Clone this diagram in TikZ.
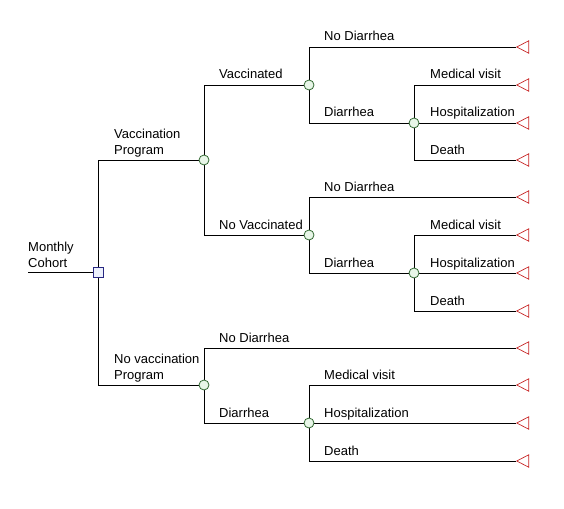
\documentclass[tikz,border=0pt]{standalone}
\usepackage{fontspec}
\setmainfont{Liberation Sans}
\usetikzlibrary{shapes.geometric,backgrounds}

\definecolor{decblue}{RGB}{40,40,130}
\definecolor{decfill}{RGB}{236,240,252}
\definecolor{chgreen}{RGB}{50,105,50}
\definecolor{chfill}{RGB}{232,246,232}
\definecolor{termred}{RGB}{200,40,40}

\begin{document}
\begin{tikzpicture}[
  x=1pt, y=-1pt,
  every node/.style={font=\fontsize{13}{16}\selectfont},
  decision/.style={draw=decblue, fill=decfill, minimum size=10pt, inner sep=0pt, line width=0.8pt},
  chance/.style={circle, draw=chgreen, fill=chfill, minimum size=10pt, inner sep=0pt, line width=0.8pt},
  terminal/.style={isosceles triangle, shape border rotate=180, isosceles triangle apex angle=55,
    draw=termred, fill=white, minimum size=12pt, inner sep=0pt, anchor=apex, line width=0.7pt},
  lbl/.style={anchor=base west, inner sep=0pt, align=left},
  branch/.style={line width=0.8pt}
]
  \useasboundingbox (0,0) rectangle (564,508);

  % --- Entscheidungs- und Zufallsknoten ---
  \coordinate (cohort) at (28,272);
  \node[decision] (root) at (98,272) {};
  \node[chance] (vp)    at (204,160) {};
  \node[chance] (nvp)   at (204,385) {};
  \node[chance] (vac)   at (309,85)  {};
  \node[chance] (nvac)  at (309,235) {};
  \node[chance] (vacD)  at (414,123) {};
  \node[chance] (nvacD) at (414,273) {};
  \node[chance] (nvpD)  at (309,423) {};

  % --- Endknoten ---
  \node[terminal] (t1)  at (516,47)  {};
  \node[terminal] (t2)  at (516,85)  {};
  \node[terminal] (t3)  at (516,123) {};
  \node[terminal] (t4)  at (516,160) {};
  \node[terminal] (t5)  at (516,197) {};
  \node[terminal] (t6)  at (516,235) {};
  \node[terminal] (t7)  at (516,273) {};
  \node[terminal] (t8)  at (516,311) {};
  \node[terminal] (t9)  at (516,348) {};
  \node[terminal] (t10) at (516,385) {};
  \node[terminal] (t11) at (516,423) {};
  \node[terminal] (t12) at (516,461) {};

  % --- Beschriftungen ---
  \node[lbl] (lCohort) at (28,267)  {Monthly\\Cohort};
  \node[lbl] (lVP)     at (114,154) {Vaccination\\Program};
  \node[lbl] (lNVP)    at (114,379) {No vaccination\\Program};
  \node[lbl] (lVac)    at (219,79)  {Vaccinated};
  \node[lbl] (lNVac)   at (219,229) {No Vaccinated};
  \node[lbl] (lVacND)  at (324,41)  {No Diarrhea};
  \node[lbl] (lVacD)   at (324,117) {Diarrhea};
  \node[lbl] (lVacM)   at (430,79)  {Medical visit};
  \node[lbl] (lVacH)   at (430,117) {Hospitalization};
  \node[lbl] (lVacX)   at (430,154) {Death};
  \node[lbl] (lNVacND) at (324,191) {No Diarrhea};
  \node[lbl] (lNVacD)  at (324,267) {Diarrhea};
  \node[lbl] (lNVacM)  at (430,229) {Medical visit};
  \node[lbl] (lNVacH)  at (430,267) {Hospitalization};
  \node[lbl] (lNVacX)  at (430,305) {Death};
  \node[lbl] (lNVPND)  at (219,342) {No Diarrhea};
  \node[lbl] (lNVPD)   at (219,417) {Diarrhea};
  \node[lbl] (lNVPM)   at (324,379) {Medical visit};
  \node[lbl] (lNVPH)   at (324,417) {Hospitalization};
  \node[lbl] (lNVPX)   at (324,455) {Death};

  \begin{pgfonlayer}{background}
    % Aeste
    \draw[branch] (cohort) -- (root);
    \draw[branch] (root) |- (vp);
    \draw[branch] (root) |- (nvp);
    \draw[branch] (vp) |- (vac);
    \draw[branch] (vp) |- (nvac);
    \draw[branch] (vac) |- (t1.apex);
    \draw[branch] (vac) |- (vacD);
    \draw[branch] (vacD) |- (t2.apex);
    \draw[branch] (vacD) -- (t3.apex);
    \draw[branch] (vacD) |- (t4.apex);
    \draw[branch] (nvac) |- (t5.apex);
    \draw[branch] (nvac) |- (nvacD);
    \draw[branch] (nvacD) |- (t6.apex);
    \draw[branch] (nvacD) -- (t7.apex);
    \draw[branch] (nvacD) |- (t8.apex);
    \draw[branch] (nvp) |- (t9.apex);
    \draw[branch] (nvp) |- (nvpD);
    \draw[branch] (nvpD) |- (t10.apex);
    \draw[branch] (nvpD) -- (t11.apex);
    \draw[branch] (nvpD) |- (t12.apex);
  \end{pgfonlayer}
\end{tikzpicture}
\end{document}
